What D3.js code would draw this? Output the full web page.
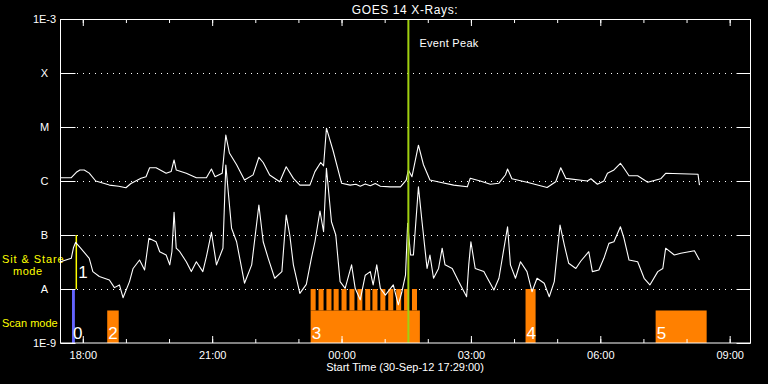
<!DOCTYPE html>
<meta charset="utf-8">
<script src="https://cdn.jsdelivr.net/npm/d3@7"></script>
<style>
  body { margin: 0; background: #000; }
  svg text { font-family: "Liberation Sans", Arial, sans-serif; fill: #fff; }
</style>
<div id="viz"></div>
<script>
// GOES 14 long channel (1-8 A), W/m^2
const longChannel = [
  ["17:29",1.15e-6],["17:44",1.15e-6],["17:51",1.45e-6],["17:56",1.6e-6],["18:02",1.6e-6],["18:09",1.4e-6],
  ["18:18",1.0e-6],["18:30",0.9e-6],["18:37",0.84e-6],["18:50",0.8e-6],["19:00",0.75e-6],["19:07",0.9e-6],
  ["19:21",1.12e-6],["19:28",1.2e-6],["19:33",1.76e-6],["19:42",1.76e-6],["19:56",1.39e-6],["20:03",1.5e-6],
  ["20:07",2.45e-6],["20:10",1.6e-6],["20:24",1.39e-6],["20:38",1.15e-6],["20:52",1.15e-6],["20:59",1.67e-6],
  ["21:04",1.2e-6],["21:14",1.39e-6],["21:19",7.1e-6],["21:24",3.3e-6],["21:34",2.0e-6],["21:45",1.04e-6],
  ["21:57",1.3e-6],["22:05",2.75e-6],["22:11",2.2e-6],["22:20",1.29e-6],["22:34",0.97e-6],["22:43",1.84e-6],
  ["22:53",1.12e-6],["23:02",0.84e-6],["23:16",0.84e-6],["23:23",1.49e-6],["23:31",2.2e-6],["23:35",1.9e-6],
  ["23:39",9.5e-6],["23:48",3.75e-6],["00:00",0.91e-6],["00:12",0.84e-6],["00:20",0.87e-6],["00:26",0.8e-6],
  ["00:33",0.88e-6],["00:40",0.82e-6],["00:47",0.9e-6],["00:54",0.8e-6],["01:08",0.78e-6],["01:22",0.78e-6],
  ["01:30",1.04e-6],["01:33",1.6e-6],["01:38",1.2e-6],["01:47",4.6e-6],["01:54",2.0e-6],["02:03",1.04e-6],
  ["02:17",0.95e-6],["02:36",0.84e-6],["02:55",0.78e-6],["02:59",1.12e-6],["03:13",1.0e-6],["03:27",0.87e-6],
  ["03:39",0.91e-6],["03:48",1.29e-6],["03:51",1.67e-6],["03:57",1.1e-6],["04:18",0.95e-6],["04:46",0.76e-6],
  ["04:58",0.97e-6],["05:05",1.76e-6],["05:12",1.12e-6],["05:42",1.0e-6],["05:47",1.1e-6],["05:56",0.87e-6],
  ["06:05",1.0e-6],["06:10",1.39e-6],["06:19",1.6e-6],["06:28",2.13e-6],["06:33",1.72e-6],["06:40",1.25e-6],
  ["06:52",1.25e-6],["07:06",0.95e-6],["07:24",1.1e-6],["07:31",1.39e-6],["07:52",1.36e-6],["08:16",1.33e-6],
  ["08:18",0.84e-6]
];

// GOES 14 short channel (0.5-4 A), W/m^2
const shortChannel = [
  ["17:29",3.2e-8],["17:44",3.7e-8],["17:47",5.8e-8],["17:50",7.3e-8],["17:57",5.7e-8],["18:09",3.7e-8],
  ["18:14",2.1e-8],["18:23",1.7e-8],["18:37",1.47e-8],["18:44",1.06e-8],["18:51",1.19e-8],["18:56",6.9e-9],
  ["19:05",1.37e-8],["19:10",2.4e-8],["19:19",3.44e-8],["19:26",2.25e-8],["19:32",8.7e-8],["19:42",7.5e-8],
  ["19:47",4.9e-8],["19:56",4.26e-8],["20:01",2.8e-8],["20:04",4.9e-8],["20:07",2.63e-7],["20:10",5.7e-8],
  ["20:15",4.9e-8],["20:24",3.2e-8],["20:31",2.1e-8],["20:38",3.2e-8],["20:47",2.1e-8],["20:52",3.96e-8],
  ["20:59",1.12e-7],["21:06",2.8e-8],["21:15",5.7e-8],["21:19",1.98e-6],["21:27",1.33e-7],["21:34",7.5e-8],
  ["21:45",1.28e-8],["21:55",2.8e-8],["22:05",3.6e-7],["22:11",7.5e-8],["22:18",3.7e-8],["22:27",1.58e-8],
  ["22:37",2.1e-8],["22:43",2.35e-7],["22:48",1.0e-7],["22:53",2.8e-8],["23:02",8.3e-9],["23:11",1.22e-8],
  ["23:18",3.7e-8],["23:23",7.5e-8],["23:30",2.78e-7],["23:35",1.15e-7],["23:39",1.72e-6],["23:46",1.76e-7],
  ["23:52",1.0e-7],["23:58",1.37e-8],["00:05",1.03e-8],["00:14",2.8e-8],["00:19",1.03e-8],["00:26",6.3e-9],
  ["00:33",1.8e-8],["00:40",2.1e-8],["00:44",1.19e-8],["00:49",2.8e-8],["00:54",1.03e-8],["01:01",7.7e-9],
  ["01:12",1.19e-8],["01:19",5.1e-9],["01:24",8.9e-9],["01:29",1.8e-8],["01:32",1.65e-7],["01:36",4.26e-8],
  ["01:40",4.26e-8],["01:47",7.8e-7],["01:52",1.76e-7],["01:59",2.4e-8],["02:03",4.26e-8],["02:08",1.58e-8],
  ["02:15",2.4e-8],["02:20",5.7e-8],["02:24",2.8e-8],["02:34",2.4e-8],["02:43",1.37e-8],["02:54",7.2e-9],
  ["02:57",2.8e-8],["03:00",7.5e-8],["03:06",2.4e-8],["03:18",2.1e-8],["03:23",1.58e-8],["03:32",9.6e-9],
  ["03:39",1.58e-8],["03:44",3.96e-8],["03:51",1.42e-7],["03:55",2.8e-8],["04:02",1.58e-8],["04:09",3.2e-8],
  ["04:18",2.1e-8],["04:25",8.9e-9],["04:32",1.58e-8],["04:42",1.28e-8],["04:49",7.2e-9],["04:56",1.37e-8],
  ["05:04",1.53e-7],["05:10",6.5e-8],["05:16",3.0e-8],["05:26",2.4e-8],["05:33",3.3e-8],["05:44",4.9e-8],
  ["05:49",2.1e-8],["05:58",2.25e-8],["06:05",3.7e-8],["06:12",7.0e-8],["06:19",7.5e-8],["06:28",1.42e-7],
  ["06:33",8.7e-8],["06:40",3.44e-8],["06:52",3.2e-8],["07:01",1.58e-8],["07:09",1.19e-8],["07:20",2.1e-8],
  ["07:27",2.4e-8],["07:31",5.7e-8],["07:43",4.26e-8],["07:52",4.6e-8],["08:11",5.1e-8],["08:18",3.44e-8]
];

// observing mode blocks
const barLabels = ["0", "2", "3", "4", "5"];
const barStarts = ["17:45", "18:34", "23:17", "04:16", "07:17"];
const barEnds   = ["17:49", "18:50", "01:49", "04:30", "08:28"];
const barTops   = [1e-8, 4e-9, 4e-9, 1e-8, 4e-9];
const barColors = ["#6464ff", "#ff8000", "#ff8000", "#ff8000", "#ff8000"];
// short scans stacked on block 3
const toothStarts = ["23:17","23:28","23:39","23:49","00:00","00:11","00:22","00:33","00:43","00:54","01:05","01:16","01:27","01:38"];
const toothMinutes = 7;
const stareTime = "17:51";
const eventPeak = "01:33";

const decades = [1e-3, 1e-4, 1e-5, 1e-6, 1e-7, 1e-8, 1e-9];
const decadeLabels = ["1E-3", "X", "M", "C", "B", "A", "1E-9"];
const majorTicks = ["18:00", "21:00", "00:00", "03:00", "06:00", "09:00"];

// times before noon belong to 1 Oct
function toDate(s) {
  const [h, m] = s.split(":").map(Number);
  return new Date(2012, 8, h >= 12 ? 30 : 31, h, m);
}

const width = 768, height = 384;
const svg = d3.select("#viz").append("svg")
  .attr("width", width).attr("height", height)
  .style("background", "#000");

const x = d3.scaleTime()
  .domain([toDate("17:29"), toDate("09:29")])
  .range([60.5, 750.5]);
const y = d3.scaleLog()
  .domain([1e-9, 1e-3])
  .range([343, 19]);

// left-hand mode captions
const cap = svg.append("g").style("font-size", "11px");
cap.append("text").attr("x", 2).attr("y", 263).style("fill", "#ffff00").style("letter-spacing", "0.9px").text("Sit & Stare");
cap.append("text").attr("x", 13).attr("y", 275).style("fill", "#ffff00").style("letter-spacing", "0.5px").text("mode");
cap.append("text").attr("x", 2).attr("y", 327).style("fill", "#ffff00").text("Scan mode");

// dotted decade grid
svg.append("g").selectAll("line")
  .data(decades.slice(1, -1))
  .join("line")
  .attr("x1", 77).attr("x2", 736)
  .attr("y1", d => Math.round(y(d)) + 0.5).attr("y2", d => Math.round(y(d)) + 0.5)
  .attr("stroke", "#fff").attr("stroke-dasharray", "1 5");

// mode blocks
const bars = barLabels.map((l, i) => ({ label: l, start: toDate(barStarts[i]), end: toDate(barEnds[i]), top: barTops[i], color: barColors[i] }));
svg.append("g").selectAll("rect")
  .data(bars)
  .join("rect")
  .attr("x", d => x(d.start))
  .attr("width", d => x(d.end) - x(d.start))
  .attr("y", d => y(d.top))
  .attr("height", d => y(1e-9) - y(d.top))
  .attr("fill", d => d.color);

svg.append("g").selectAll("rect")
  .data(toothStarts.map(toDate))
  .join("rect")
  .attr("x", d => x(d))
  .attr("width", d => x(d3.timeMinute.offset(d, toothMinutes)) - x(d))
  .attr("y", y(1e-8))
  .attr("height", y(4e-9) - y(1e-8))
  .attr("fill", "#ff8000");

// sit & stare marker
svg.append("line")
  .attr("x1", x(toDate(stareTime))).attr("x2", x(toDate(stareTime)))
  .attr("y1", y(1e-7)).attr("y2", y(1e-8))
  .attr("stroke", "#ffff00").attr("stroke-width", 1.5);

// block numbers
const nums = svg.append("g")
  .style("font-size", "17px")
  .style("font-family", "'DejaVu Sans', sans-serif")
  .style("font-weight", 200);
nums.selectAll("text")
  .data(bars)
  .join("text")
  .attr("x", d => x(d.start) + 1)
  .attr("y", 339)
  .text(d => d.label);
nums.append("text")
  .attr("x", x(toDate(stareTime)) + 2)
  .attr("y", 278)
  .text("1");

// flux curves
const line = d3.line()
  .x(d => x(toDate(d[0])))
  .y(d => y(d[1]));
[longChannel, shortChannel].forEach(series => {
  svg.append("path")
    .datum(series)
    .attr("d", line)
    .attr("fill", "none")
    .attr("stroke", "#fff")
    .attr("stroke-width", 1.1)
    .attr("stroke-linejoin", "round");
});

// event peak
svg.append("line")
  .attr("x1", x(toDate(eventPeak))).attr("x2", x(toDate(eventPeak)))
  .attr("y1", 19).attr("y2", 343)
  .attr("stroke", "#a0d010").attr("stroke-width", 2);
svg.append("text")
  .attr("x", x(toDate(eventPeak)) + 11).attr("y", 47)
  .style("font-size", "11px")
  .style("letter-spacing", "0.3px")
  .text("Event Peak");

// axes
const hours = d3.timeHour.every(1).range(toDate("18:00"), toDate("09:29"));
function styleAxis(g) {
  g.select(".domain").remove();
  g.selectAll("line").attr("stroke", "#fff");
  g.selectAll("text").style("font-size", "11px").attr("fill", "#fff");
}
svg.append("g").attr("transform", "translate(0,343)")
  .call(d3.axisBottom(x).tickValues(hours).tickSizeInner(-4).tickFormat(""))
  .call(styleAxis);
svg.append("g").attr("transform", "translate(0,343)")
  .call(d3.axisBottom(x).tickValues(majorTicks.map(toDate)).tickSizeInner(-7).tickPadding(8)
    .tickFormat(d3.timeFormat("%H:%M")))
  .call(styleAxis);
svg.append("g").attr("transform", "translate(0,19)")
  .call(d3.axisTop(x).tickValues(hours).tickSizeInner(-4).tickFormat(""))
  .call(styleAxis);
svg.append("g").attr("transform", "translate(0,19)")
  .call(d3.axisTop(x).tickValues(majorTicks.map(toDate)).tickSizeInner(-7).tickFormat(""))
  .call(styleAxis);

const yl = svg.append("g").attr("transform", "translate(60.5,0)")
  .call(d3.axisLeft(y).tickValues(decades).tickSizeInner(-15).tickFormat((d, i) => decadeLabels[i]))
  .call(styleAxis);
yl.selectAll("text").attr("x", -16).attr("text-anchor", "middle");
svg.append("g").attr("transform", "translate(750.5,0)")
  .call(d3.axisRight(y).tickValues(decades).tickSizeInner(-14).tickFormat(""))
  .call(styleAxis);

// frame
svg.append("rect")
  .attr("x", 60.5).attr("y", 19.5)
  .attr("width", 690).attr("height", 323.5)
  .attr("fill", "none").attr("stroke", "#fff");

// titles
svg.append("text")
  .attr("x", 405).attr("y", 13.5)
  .attr("text-anchor", "middle")
  .style("font-size", "12px")
  .style("letter-spacing", "0.6px")
  .text("GOES 14 X-Rays:");
svg.append("text")
  .attr("x", 405).attr("y", 371)
  .attr("text-anchor", "middle")
  .style("font-size", "11px")
  .text("Start Time (30-Sep-12 17:29:00)");
</script>
